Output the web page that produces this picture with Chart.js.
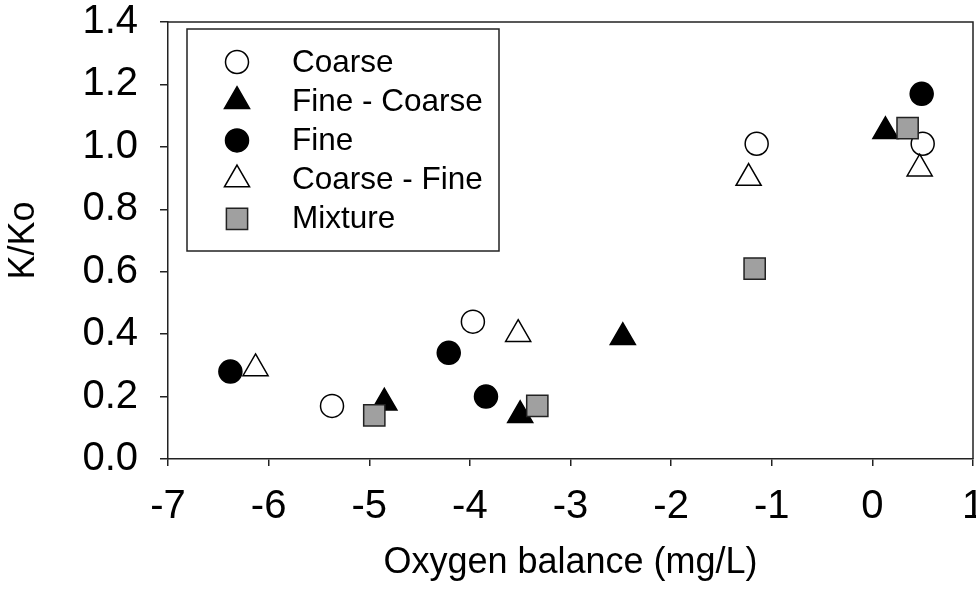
<!DOCTYPE html>
<html>
<head>
<meta charset="utf-8">
<script src="https://cdn.jsdelivr.net/npm/chart.js@4.4.0/dist/chart.umd.min.js"></script>
<style>
  html, body { margin: 0; padding: 0; background: #fff; overflow: hidden; }
  #clip { width: 976px; height: 591px; overflow: hidden; }
  #wrap { width: 1020px; height: 591px; }
</style>
</head>
<body>
<div id="clip"><div id="wrap"><canvas id="koChart"></canvas></div></div>
<script>
// values
const seriesNames = ['Coarse', 'Fine - Coarse', 'Fine', 'Coarse - Fine', 'Mixture'];

const coarseX = [-5.37, -3.97, -1.15, 0.50];
const coarseY = [0.17, 0.44, 1.01, 1.01];

const fineCoarseX = [-4.85, -3.50, -2.48, 0.13];
const fineCoarseY = [0.18, 0.14, 0.39, 1.05];

const fineX = [-6.38, -4.21, -3.84, 0.49];
const fineY = [0.28, 0.34, 0.20, 1.17];

const coarseFineX = [-6.13, -3.52, -1.23, 0.47];
const coarseFineY = [0.29, 0.40, 0.90, 0.93];

const mixtureX = [-4.95, -3.33, -1.17, 0.35];
const mixtureY = [0.14, 0.17, 0.61, 1.06];

const FONT = '"Liberation Sans", Arial, Helvetica, sans-serif';

function pts(xs, ys) {
    return xs.map((x, i) => ({ x: x, y: ys[i] }));
}

function series(i, xs, ys, style, radius, fill, stroke) {
    return {
        label: seriesNames[i],
        data: pts(xs, ys),
        pointStyle: style,
        pointRadius: radius,
        pointHoverRadius: radius,
        pointBackgroundColor: fill,
        pointBorderColor: stroke,
        pointBorderWidth: 1.5,
        order: 5 - i // first dataset at the bottom, mixture on top
    };
}

// frame around the plot + legend box in the upper left corner
const framePlugin = {
    id: 'frame',
    afterDatasetsDraw(chart) {
        const { ctx, chartArea: a } = chart;
        ctx.save();
        ctx.strokeStyle = '#222';
        ctx.lineWidth = 1.5;
        ctx.beginPath();
        ctx.moveTo(a.left, a.top);
        ctx.lineTo(a.right, a.top);
        ctx.lineTo(a.right, a.bottom);
        ctx.stroke();

        // legend
        const bx = 187, by = 29, bw = 312, bh = 222;
        ctx.lineWidth = 1.5;
        ctx.strokeRect(bx, by, bw, bh);
        ctx.font = '31.5px ' + FONT;
        ctx.textBaseline = 'middle';
        ctx.textAlign = 'left';
        chart.data.datasets.forEach((ds, i) => {
            const cy = 62 + i * 39.2;
            ctx.fillStyle = ds.pointBackgroundColor;
            ctx.strokeStyle = ds.pointBorderColor;
            ctx.lineWidth = ds.pointBorderWidth;
            Chart.helpers.drawPoint(ctx, {
                pointStyle: ds.pointStyle,
                radius: ds.pointRadius,
                rotation: 0,
                borderWidth: ds.pointBorderWidth
            }, 237, cy);
            ctx.fillStyle = '#000';
            ctx.fillText(ds.label, 292, cy + 1);
        });
        ctx.restore();
    }
};

new Chart(document.getElementById('koChart'), {
    type: 'scatter',
    data: {
        datasets: [
            series(0, coarseX, coarseY, 'circle', 11.5, '#ffffff', '#000000'),
            series(1, fineCoarseX, fineCoarseY, 'triangle', 14.5, '#000000', '#000000'),
            series(2, fineX, fineY, 'circle', 11.5, '#000000', '#000000'),
            series(3, coarseFineX, coarseFineY, 'triangle', 14.5, '#ffffff', '#000000'),
            series(4, mixtureX, mixtureY, 'rect', 15, '#a0a0a0', '#222222')
        ]
    },
    options: {
        responsive: true,
        maintainAspectRatio: false,
        animation: false,
        // canvas is wider than the page and clipped at 976, so the last "1" is cut like the original
        layout: { padding: { top: 22, right: 47, left: 0, bottom: 0 } },
        plugins: {
            legend: { display: false },
            tooltip: { enabled: false }
        },
        scales: {
            x: {
                type: 'linear',
                min: -7, max: 1,
                afterFit(scale) {
                    scale.height = 132;
                },
                ticks: {
                    stepSize: 1,
                    color: '#000',
                    padding: 21,
                    font: { family: FONT, size: 40, lineHeight: 1 }
                },
                grid: { drawOnChartArea: false, drawTicks: true, tickLength: 7, color: '#222', lineWidth: 1.5 },
                border: { display: true, color: '#222', width: 1.5 },
                title: {
                    display: true,
                    text: 'Oxygen balance (mg/L)',
                    color: '#000',
                    font: { family: FONT, size: 36, lineHeight: 1.2 },
                    padding: { top: 0, bottom: 6 }
                }
            },
            y: {
                type: 'linear',
                min: 0, max: 1.4,
                afterFit(scale) {
                    scale.width = 168;
                    scale.paddingTop = 0;
                    scale.paddingBottom = 0;
                },
                ticks: {
                    stepSize: 0.2,
                    color: '#000',
                    padding: 22,
                    font: { family: FONT, size: 40, lineHeight: 1 },
                    callback: v => v.toFixed(1)
                },
                grid: { drawOnChartArea: false, drawTicks: true, tickLength: 8, color: '#222', lineWidth: 1.5 },
                border: { display: true, color: '#222', width: 1.5 },
                title: {
                    display: true,
                    text: 'K/Ko',
                    color: '#000',
                    font: { family: FONT, size: 36, lineHeight: 1.2 },
                    padding: { top: 2, bottom: 0 }
                }
            }
        }
    },
    plugins: [framePlugin]
});
</script>
</body>
</html>
